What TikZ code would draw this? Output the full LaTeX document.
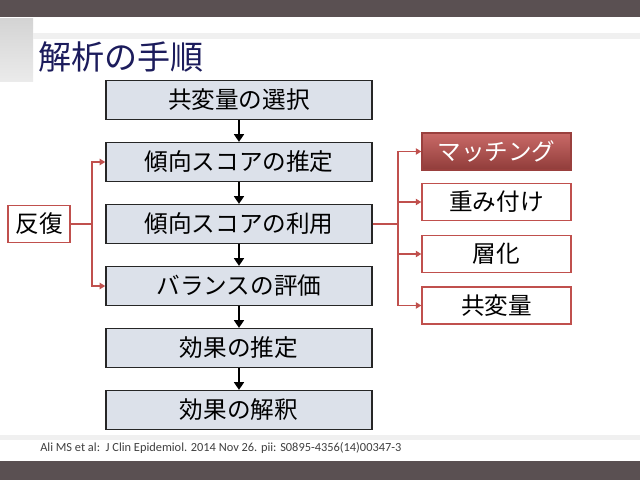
\documentclass[tikz,border=0pt]{standalone}
\usepackage{fontspec}
\setmainfont{Noto Sans CJK JP}
\newfontfamily\citefont{Carlito}
\usetikzlibrary{arrows.meta}
\definecolor{barGray}{HTML}{5A5052}
\definecolor{boxFill}{HTML}{DCE1EA}
\definecolor{accentRed}{HTML}{C0504D}
\definecolor{titleBlue}{HTML}{1C1C5C}
\tikzset{
	flow/.style={draw=black!85, line width=1pt, fill=boxFill, inner sep=0pt,
		minimum width=6.65cm, minimum height=0.97cm, font=\fontsize{16.8}{16.8}\selectfont},
	method/.style={draw=accentRed, line width=1pt, fill=white, inner sep=0pt,
		minimum width=3.72cm, minimum height=0.93cm, font=\fontsize{16.8}{16.8}\selectfont},
	down/.style={-{Triangle[width=7pt,length=5.5pt]}, line width=2pt},
	redline/.style={accentRed, line width=1.2pt},
	link/.style={redline, -{Triangle[width=4.5pt,length=4pt]}},
}
\newcommand{\stage}[3]{
	\node[flow] (#1) at (239, #2) {#3};
}
\newcommand{\stageArrow}[2]{
	\draw[down] (#1) -- (#2);
}
\newcommand{\method}[4][method]{
	\node[#1] (#2) at (496.5, #3) {#4};
}
\newcommand{\branch}[2]{
	\draw[link] (#1) |- (#2.west);
}

\begin{document}
\begin{tikzpicture}[x=0.025cm, y=-0.025cm]
	\fill[white] (0,0) rectangle (640,480);
	\fill[barGray] (0,0) rectangle (640,17);
	\fill[barGray] (0,461) rectangle (640,480);
	\shade[top color=black!17, bottom color=black!8] (0,18) rectangle (33,81);
	\fill[black!6] (33,33) rectangle (640,39);
	\fill[black!6] (0,435) rectangle (640,440);

	\node[anchor=west, text=titleBlue, font=\fontsize{23.5}{23.5}\selectfont, inner sep=0pt] (title) at (38, 57) {解析の手順};

	\stage{select}{100}{共変量の選択};
	\stage{estimate}{162}{傾向スコアの推定};
	\stage{use}{224}{傾向スコアの利用};
	\stage{balance}{286}{バランスの評価};
	\stage{effect}{348}{効果の推定};
	\stage{interpret}{410}{効果の解釈};

	\stageArrow{select}{estimate};
	\stageArrow{estimate}{use};
	\stageArrow{use}{balance};
	\stageArrow{balance}{effect};
	\stageArrow{effect}{interpret};

	% iteration loop on the left
	\node[method, minimum width=1.55cm] (repeat) at (39, 224) {反復};
	\coordinate (splitL) at (92, 224);
	\draw[redline] (repeat) -- (splitL);
	\branch{splitL}{estimate};
	\branch{splitL}{balance};

	% ways of using the score
	\method[method, fill=accentRed, draw=accentRed!80!black, text=white,
		top color=accentRed!85!white, bottom color=accentRed!75!black]{match}{151.5}{マッチング};
	\method{weight}{202}{重み付け};
	\method{strata}{254}{層化};
	\method{covar}{305.5}{共変量};

	\coordinate (splitR) at (398, 224);
	\draw[redline] (use) -- (splitR);
	\foreach \m in {match, weight, strata, covar} {
		\branch{splitR}{\m};
	}

	\node[anchor=west, inner sep=0pt, text=black!75, font=\citefont\fontsize{8.8}{8.8}\selectfont] (cite) at (40, 448)
		{Ali MS et al:\ \ J Clin Epidemiol. 2014 Nov 26. pii: S0895-4356(14)00347-3};
\end{tikzpicture}
\end{document}
